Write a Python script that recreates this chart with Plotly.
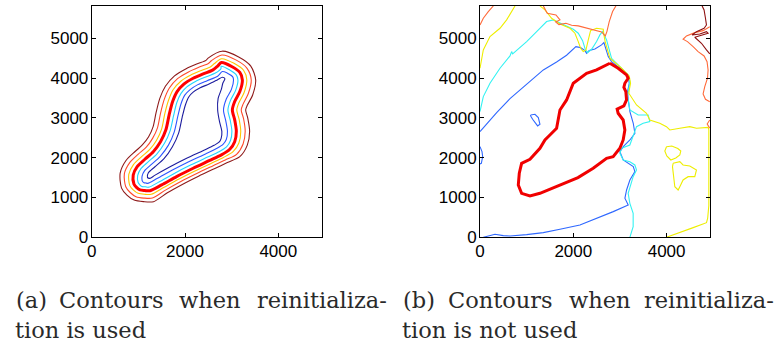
import plotly.graph_objects as go

# ---------------------------------------------------------------------------
# Panel (a): level-set contours after reinitialization (closed curves, x/y in m)
# ---------------------------------------------------------------------------
LEVEL_A_ZERO = [(2780, 4390), (3000, 4290), (3175, 4140), (3230, 3950), (3175, 3660), (3065, 3410),
                (3015, 3200), (3065, 2950), (3100, 2660), (3065, 2400), (2960, 2210), (2780, 2070),
                (2530, 1930), (2175, 1735), (1820, 1525), (1500, 1315), (1250, 1170), (1140, 1175),
                (1035, 1190), (960, 1255), (905, 1340), (890, 1565), (975, 1775), (1140, 1960),
                (1320, 2150), (1475, 2400), (1590, 2700), (1660, 3075), (1735, 3410), (1830, 3660),
                (1975, 3850), (2175, 3995), (2390, 4105), (2600, 4205), (2700, 4300)]

LEVEL_A_P1 = [(2785, 4485), (3050, 4370), (3255, 4195), (3325, 3950), (3265, 3630), (3155, 3380),
              (3110, 3200), (3160, 2965), (3195, 2660), (3155, 2370), (3030, 2150), (2822, 2005),
              (2567, 1863), (2213, 1668), (1861, 1460), (1541, 1250), (1275, 1080), (1130, 1080),
              (995, 1105), (890, 1190), (815, 1305), (795, 1580), (895, 1825), (1070, 2025),
              (1245, 2210), (1390, 2440), (1500, 2725), (1565, 3095), (1645, 3435), (1745, 3705),
              (1910, 3920), (2125, 4075), (2350, 4190), (2550, 4285), (2630, 4365)]

LEVEL_A_P2 = [(2790, 4580), (3100, 4450), (3330, 4245), (3420, 3950), (3355, 3605), (3245, 3345),
              (3205, 3200), (3255, 2980), (3290, 2660), (3245, 2345), (3105, 2085), (2864, 1941),
              (2603, 1797), (2252, 1602), (1901, 1395), (1581, 1185), (1300, 985), (1120, 985),
              (950, 1020), (825, 1125), (730, 1270), (700, 1595), (815, 1875), (1000, 2090),
              (1170, 2265), (1305, 2485), (1410, 2750), (1475, 3115), (1555, 3465), (1665, 3750),
              (1840, 3985), (2075, 4155), (2305, 4275), (2500, 4365), (2565, 4435)]

LEVEL_A_P3 = [(2795, 4675), (3150, 4530), (3410, 4300), (3515, 3950), (3450, 3575), (3335, 3315),
              (3300, 3200), (3345, 2995), (3385, 2660), (3335, 2315), (3175, 2025), (2907, 1877),
              (2640, 1730), (2290, 1535), (1942, 1329), (1622, 1119), (1325, 895), (1110, 895),
              (910, 935), (755, 1060), (640, 1235), (610, 1610), (735, 1930), (930, 2155),
              (1090, 2325), (1220, 2525), (1315, 2775), (1380, 3130), (1460, 3490), (1580, 3795),
              (1775, 4055), (2025, 4235), (2265, 4360), (2450, 4445), (2495, 4500)]

LEVEL_A_M1 = [(2775, 4295), (2950, 4210), (3095, 4085), (3135, 3950), (3085, 3690), (2975, 3440),
              (2920, 3200), (2970, 2935), (3005, 2660), (2975, 2430), (2890, 2270), (2730, 2150),
              (2485, 2015), (2130, 1820), (1770, 1605), (1450, 1395), (1225, 1260), (1150, 1270),
              (1075, 1275), (1030, 1320), (995, 1375), (985, 1550), (1055, 1725), (1210, 1895),
              (1395, 2090), (1560, 2360), (1680, 2675), (1755, 3055), (1825, 3385), (1915, 3615),
              (2040, 3780), (2225, 3915), (2430, 4020), (2650, 4125), (2770, 4235)]

LEVEL_A_M2 = [(2900, 4130), (3020, 4035), (3040, 3950), (2995, 3715), (2885, 3475), (2825, 3200),
              (2875, 2920), (2910, 2660), (2885, 2455), (2815, 2335), (2675, 2230), (2440, 2095),
              (2080, 1900), (1720, 1685), (1400, 1475), (1200, 1355), (1160, 1365), (1120, 1370),
              (1095, 1395), (1080, 1430), (1080, 1535), (1135, 1675), (1280, 1830), (1470, 2035),
              (1645, 2315), (1770, 2650), (1845, 3035), (1915, 3355), (1995, 3570), (2110, 3710),
              (2275, 3835), (2475, 3935), (2700, 4045), (2800, 4165)]

LEVEL_A_M3 = [(2800, 4020), (2855, 3985), (2810, 3870), (2780, 3720), (2710, 3490), (2700, 3200),
              (2740, 2905), (2790, 2660), (2775, 2485), (2735, 2395), (2625, 2310), (2395, 2180),
              (2035, 1985), (1670, 1765), (1350, 1555), (1245, 1480), (1195, 1505), (1215, 1620),
              (1350, 1765), (1550, 1975), (1730, 2275), (1865, 2625), (1940, 3020), (2010, 3330),
              (2080, 3525), (2175, 3645), (2325, 3755), (2515, 3850), (2700, 3960)]

# ---------------------------------------------------------------------------
# Panel (b): contours without reinitialization (open and closed curves, m)
# ---------------------------------------------------------------------------
ZERO_B = [(2784, 4372), (2961, 4246), (3141, 4078), (3176, 3995), (3105, 3869), (3084, 3769),
          (3126, 3658), (3141, 3450), (3084, 3300), (2940, 3220), (2961, 3116), (3069, 2947),
          (3105, 2696), (3069, 2445), (2998, 2236), (2854, 2025), (2713, 1985), (2426, 1734),
          (2100, 1500), (1642, 1273), (1285, 1105), (1071, 1038), (892, 1105), (821, 1315),
          (842, 1608), (892, 1859), (1071, 1960), (1285, 2236), (1392, 2446), (1499, 2571),
          (1642, 2739), (1714, 3199), (1856, 3450), (1999, 3869), (2106, 3970), (2285, 4121),
          (2499, 4204), (2642, 4288), (2784, 4372)]

BLUE_B_MAIN = [(0, 2655), (143, 2848), (357, 3132), (643, 3484), (893, 3735), (1107, 3970),
               (1357, 4204), (1642, 4405), (1856, 4573), (2056, 4790), (2156, 4765), (2249, 4690),
               (2285, 4623), (2342, 4690), (2463, 4732), (2606, 4832), (2656, 4891), (2749, 4539),
               (2820, 4414), (2999, 4246), (3177, 4053), (3199, 3869), (3163, 3660), (3177, 3450),
               (3213, 3157), (3285, 2864), (3320, 2613), (3213, 2445), (3070, 2278), (2999, 2152),
               (3070, 1943), (3285, 1776), (3320, 1650), (3213, 1440), (3142, 1189), (3106, 980),
               (3177, 812), (2856, 645), (2499, 477), (2142, 310), (1714, 201), (1357, 117),
               (1000, 67), (643, 34), (500, 42), (321, 75), (179, 34), (71, 0)]
BLUE_B_EDGE = [(0, 2278), (43, 2152), (57, 2026), (29, 1859), (0, 1842)]
BLUE_B_LOOP = [(1085, 3074), (1178, 3090), (1250, 3007), (1285, 2839), (1235, 2797), (1178, 2881),
               (1128, 2965), (1085, 3049), (1085, 3074)]

CYAN_B = [(0, 3157), (71, 3534), (214, 3869), (428, 4246), (643, 4556), (678, 4665), (700, 4606),
          (1000, 4916), (1214, 5167), (1428, 5419), (1571, 5461), (1714, 5377), (1856, 5310),
          (1999, 5226), (2106, 5126), (2199, 4941), (2256, 4723), (2306, 4640), (2392, 4723),
          (2499, 4916), (2570, 5084), (2628, 5167), (2713, 4958), (2820, 4497), (2999, 4288),
          (3177, 4079), (3213, 3911), (3177, 3702), (3160, 3534), (3180, 3450), (3212, 3199),
          (3390, 3073), (3604, 3073), (3640, 2905), (3497, 2864), (3355, 2779), (3283, 2570),
          (3212, 2319), (3034, 2236), (2998, 2111), (3069, 1942), (3212, 1899), (3319, 1817),
          (3355, 1691), (3283, 1523), (3212, 1271), (3176, 1106), (3212, 854), (3283, 603),
          (3283, 266), (3212, 0)]

YELLOW_B_LEFT = [(0, 4246), (36, 4456), (71, 4707), (214, 5042), (428, 5251), (571, 5461),
                 (678, 5670), (750, 5812)]
YELLOW_B_FRONT = [(1285, 5812), (1392, 5712), (1535, 5502), (1714, 5360), (1928, 5251), (2035, 5126),
                  (2106, 4916), (2156, 4749), (2213, 4665), (2271, 4707), (2321, 4958), (2370, 5192),
                  (2499, 5251), (2642, 5226), (2656, 5084), (2685, 4900), (2785, 4497), (3035, 4246),
                  (3199, 4053), (3227, 3869), (3200, 3700), (3190, 3620), (3355, 3324), (3569, 3116),
                  (3640, 2947), (3854, 2864), (3997, 2779), (4069, 2696), (4283, 2739), (4497, 2779),
                  (4640, 2739), (4889, 2760), (4905, 2700), (4905, 1700), (4905, 800), (4880, 480),
                  (4855, 368), (4570, 243), (4284, 126), (3998, 0)]
YELLOW_B_LOOP1 = [(3998, 2276), (4111, 2294), (4240, 2231), (4304, 2168), (4283, 2068), (4197, 1992),
                  (4090, 1942), (4004, 2043), (3961, 2168), (3998, 2276)]
YELLOW_B_LOOP2 = [(4139, 1859), (4283, 1899), (4353, 1817), (4497, 1791), (4640, 1691), (4604, 1523),
                  (4461, 1523), (4353, 1440), (4283, 1271), (4247, 1188), (4176, 1271), (4154, 1440),
                  (4139, 1608), (4126, 1774), (4139, 1859)]

ORANGE_B_LEFT = [(0, 5335), (71, 5502), (178, 5670), (286, 5812)]
ORANGE_B_TOP = [(1357, 5812), (1442, 5628), (1628, 5586), (1714, 5461), (1621, 5410), (1692, 5343),
                (1842, 5377), (1964, 5327), (2106, 5310), (2271, 5259), (2428, 5209), (2606, 5159),
                (2685, 5058), (2720, 5167), (2770, 5418), (2842, 5670), (2913, 5812)]
ORANGE_B_RIGHT = [(4925, 5291), (4782, 5191), (4604, 5141), (4426, 5058), (4353, 4975), (4447, 4916),
                  (4568, 4790), (4675, 4664), (4803, 4555), (4867, 4413), (4889, 4204), (4876, 3995),
                  (4818, 3784), (4782, 3600), (4833, 3467), (4925, 3407)]
ORANGE_B_EDGE = [(4925, 2948), (4870, 2848), (4925, 2739)]

DARKRED_B = [(4761, 5812), (4803, 5711), (4833, 5503), (4854, 5334), (4803, 5251), (4640, 5166),
             (4546, 5083), (4711, 5108), (4854, 5166), (4889, 5126), (4604, 5025), (4747, 4874),
             (4854, 4706), (4925, 4606)]

# axis extents and ticks
X_RANGE = [0, 4930]
Y_RANGE = [0, 5810]
X_TICKS = [0, 2000, 4000]
Y_TICKS = [0, 1000, 2000, 3000, 4000, 5000]

CAPTION_A = [["(a)", "Contours", "when", "reinitializa-"], ["tion is used"]]
CAPTION_B = [["(b)", "Contours", "when", "reinitializa-"], ["tion is not used"]]

# ---------------------------------------------------------------------------
W, H = 778, 345
fig = go.Figure()


def add_curve(points, color, width, xa, ya, closed=False, smooth=False):
    xs = [p[0] for p in points]
    ys = [p[1] for p in points]
    if closed:
        xs.append(xs[0])
        ys.append(ys[0])
    line = dict(color=color, width=width)
    if smooth:
        line.update(shape="spline", smoothing=0.8)
    fig.add_trace(go.Scatter(x=xs, y=ys, mode="lines", line=line, xaxis=xa, yaxis=ya,
                             hoverinfo="skip", showlegend=False, cliponaxis=True))


# panel (a): jet-coloured levels, zero level drawn last and thick
panel_a = [
    (LEVEL_A_M3, "#1c1c9e", 1.1),
    (LEVEL_A_M2, "#2c55ff", 1.1),
    (LEVEL_A_M1, "#22d4ff", 1.1),
    (LEVEL_A_P1, "#ffc400", 1.1),
    (LEVEL_A_P2, "#ff4a2a", 1.1),
    (LEVEL_A_P3, "#8e1a1a", 1.1),
    (LEVEL_A_ZERO, "#ff0000", 3.0),
]
for pts, col, w in panel_a:
    add_curve(pts, col, w, "x", "y", closed=True, smooth=True)

# panel (b)
panel_b = [
    (BLUE_B_MAIN, "#2f68ff", False),
    (BLUE_B_EDGE, "#2f68ff", False),
    (BLUE_B_LOOP, "#2f68ff", False),
    (CYAN_B, "#33f2f2", False),
    (YELLOW_B_LEFT, "#eeee00", False),
    (YELLOW_B_FRONT, "#eeee00", False),
    (YELLOW_B_LOOP1, "#eeee00", False),
    (YELLOW_B_LOOP2, "#eeee00", False),
    (ORANGE_B_LEFT, "#ff6a3a", False),
    (ORANGE_B_TOP, "#ff6a3a", False),
    (ORANGE_B_RIGHT, "#ff6a3a", False),
    (ORANGE_B_EDGE, "#ff6a3a", False),
    (DARKRED_B, "#8e1010", False),
]
for pts, col, closed in panel_b:
    add_curve(pts, col, 1.1, "x2", "y2", closed=closed)
add_curve(ZERO_B, "#f00000", 3.0, "x2", "y2")

# ---------------------------------------------------------------------------
tick_font = dict(family="Liberation Sans", size=17, color="black")


def axis(domain, rng, ticks, anchor, standoff):
    return dict(domain=domain, range=rng, anchor=anchor, tickvals=ticks,
                ticktext=[str(t) for t in ticks], tickfont=tick_font,
                showgrid=False, zeroline=False, showline=True, linecolor="black",
                linewidth=1, mirror="ticks", ticks="inside", ticklen=4,
                tickcolor="black", tickwidth=1, automargin=False, fixedrange=True,
                ticklabelstandoff=standoff)


ydom = [1 - 237.3 / H, 1 - 6 / H]
fig.update_layout(
    width=W, height=H,
    margin=dict(l=0, r=0, t=0, b=0),
    paper_bgcolor="white", plot_bgcolor="white",
    xaxis=axis([91.7 / W, 321.7 / W], X_RANGE, X_TICKS, "y", -2),
    yaxis=axis(ydom, Y_RANGE, Y_TICKS, "x", -1),
    xaxis2=axis([480 / W, 710 / W], X_RANGE, X_TICKS, "y2", -2),
    yaxis2=axis(ydom, Y_RANGE, Y_TICKS, "x2", -1),
)

# captions, word by word so the first line is justified
cap_font = dict(family="DejaVu Serif", size=22.5, color="#2a2a2a")
word_centres_a = [31, 111, 210, 322]
word_centres_b = [419, 500, 600, 709]
line_y = [300, 330]
for words, centres in ((CAPTION_A[0], word_centres_a), (CAPTION_B[0], word_centres_b)):
    for wtxt, cx in zip(words, centres):
        fig.add_annotation(text=wtxt, x=cx / W, y=1 - line_y[0] / H, xref="paper", yref="paper",
                           xanchor="center", yanchor="middle", showarrow=False, font=cap_font)
for txt, lx in ((CAPTION_A[1][0], 13), (CAPTION_B[1][0], 400)):
    fig.add_annotation(text=txt, x=lx / W, y=1 - line_y[1] / H, xref="paper", yref="paper",
                       xanchor="left", yanchor="middle", showarrow=False, font=cap_font)

fig.write_html("out.html")
